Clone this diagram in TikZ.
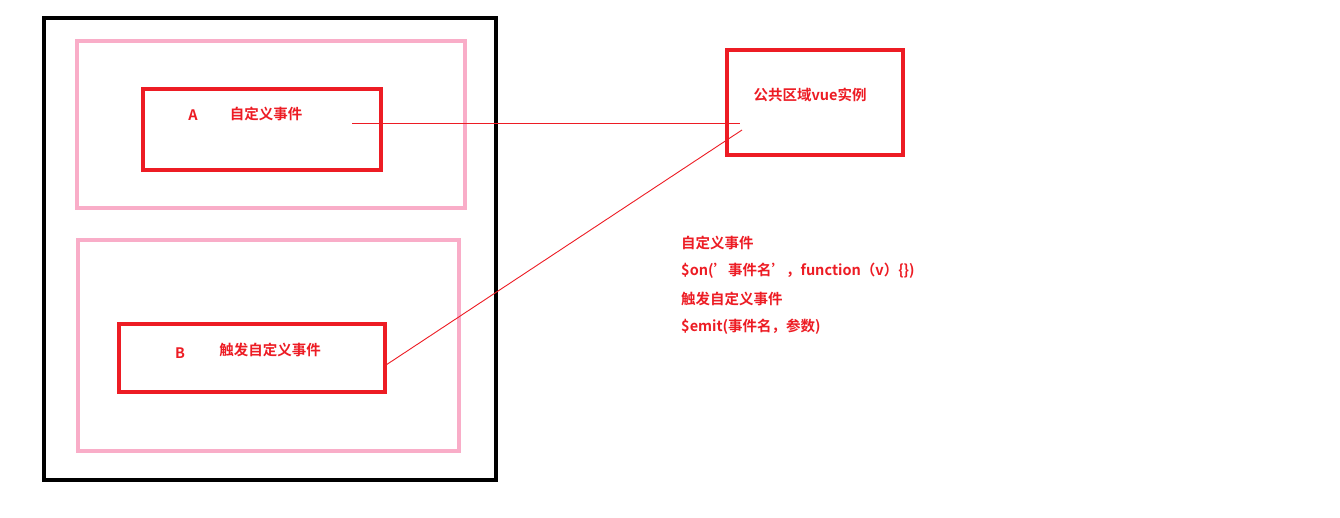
\documentclass[tikz,border=0pt]{standalone}
\usepackage{fontspec}
\setmainfont{Noto Sans CJK SC}[BoldFont={* Bold},Ligatures=NoCommon]
\definecolor{rd}{HTML}{ED1C24}
\definecolor{pk}{HTML}{F9ADC8}
\begin{document}
\begin{tikzpicture}[x=1pt,y=-1pt,
  lbl/.style={text=rd,font=\bfseries\fontsize{14.5}{17}\selectfont,inner sep=0pt},
  redbox/.style={draw=rd,line width=4pt},
  pinkbox/.style={draw=pk,line width=3.5pt},
  conn/.style={draw=rd,line width=0.9pt}]
\useasboundingbox[fill=white] (0,0) rectangle (1340,518);
\draw[line width=4pt] (44,18) rectangle (496,480);
\draw[pinkbox] (77,41) rectangle (465,208);
\draw[pinkbox] (78,240) rectangle (459,451);
\draw[redbox] (143,89) rectangle (381,170);
\draw[redbox] (119,324) rectangle (385,392);
\draw[redbox] (727,50) rectangle (903,155);
\node[lbl] (a) at (193,115) {A};
\node[lbl] (at) at (266,114) {自定义事件};
\node[lbl] (b) at (180,353) {B};
\node[lbl] (bt) at (270,350) {触发自定义事件};
\node[lbl] (pub) at (810,95) {公共区域vue实例};
\coordinate (a1) at (352,123);
\coordinate (p1) at (740,123);
\coordinate (b1) at (386,365);
\coordinate (p2) at (742,130);
\draw[conn] (a1) -- (p1);
\draw[conn] (b1) -- (p2);
\node[lbl,anchor=west] (t1) at (681,243) {自定义事件};
\node[lbl,anchor=west] (t2) at (681,271) {\$on({\char"27}事件名{\char"27}，function（v）\{\})};
\node[lbl,anchor=west] (t3) at (681,299) {触发自定义事件};
\node[lbl,anchor=west] (t4) at (681,327) {\$emit(事件名，参数)};
\end{tikzpicture}
\end{document}
